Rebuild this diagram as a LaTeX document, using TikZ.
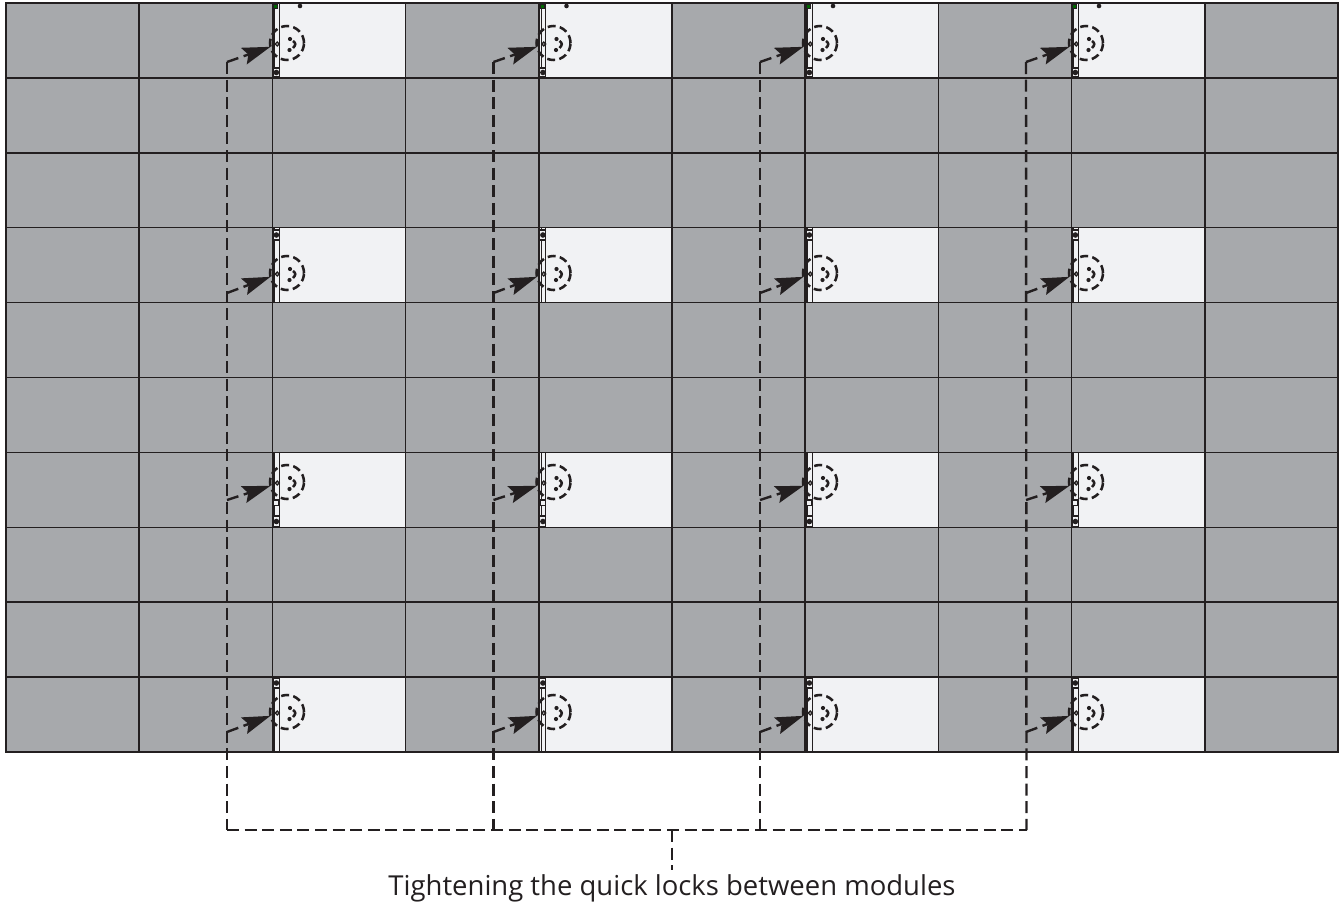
\documentclass[tikz,border=0pt]{standalone}
\usepackage{fontspec}
\setmainfont{Open Sans}
\usetikzlibrary{arrows.meta,positioning,calc}
\definecolor{panelgray}{HTML}{A7A9AC}
\definecolor{panelwhite}{HTML}{F1F2F4}
\definecolor{inkblack}{HTML}{231F20}

\begin{document}
\begin{tikzpicture}[
    x=0.75pt, y=-0.75pt,
    panel/.style={draw=inkblack, line width=1.1pt, fill=panelgray, minimum width=99.9pt,
                  minimum height=56.2pt, inner sep=0pt, outer sep=0pt},
    panelopen/.style={panel, fill=panelwhite},
    lockring/.style={circle, draw=inkblack, line width=1.9pt, dash pattern=on 6pt off 3.2pt,
                     minimum size=25.5pt, inner sep=0pt, outer sep=0pt},
    leader/.style={draw=inkblack, line width=1.8pt, dash pattern=on 9pt off 4.2pt},
    pointer/.style={leader, -{Stealth[length=21pt, width=13pt, inset=3.5pt]}},
    strip/.style={draw=inkblack, line width=1pt, fill=panelwhite},
    caption/.style={font=\fontsize{20.6}{24}\selectfont, text=inkblack, inner sep=0pt, outer ysep=3pt}
]

% --- Module grid ---
\foreach \r in {0,...,9} {
    \foreach \c in {0,...,9} {
        \node[panel] (mod-\r-\c) at ({6+133.2*\c+66.6},{3+74.9*\r+37.45}) {};
    }
}

% --- Open modules ---
\foreach \r in {0,3,6,9} {
    \foreach \c in {2,4,6,8} {
        \node[panelopen] (mod-\r-\c) at ({6+133.2*\c+66.6},{3+74.9*\r+37.45}) {};
    }
}

% --- Hinge strips, brackets and locks ---
\foreach \r/\locky/\kinky/\brackety/\bracketh in {0/43/62/68/9, 3/273/293/230/10, 6/482/500/516/11, 9/712/732/678/10} {
    \foreach \c/\stripx in {2/273, 4/539.5, 6/806, 8/1072} {
        \path[strip] (\stripx,{3+74.9*\r}) rectangle ++(6.3,74.9);
        \draw[inkblack, line width=1pt] (\stripx+1.7,{3+74.9*\r}) -- ++(0,74.9);
        \draw[strip] (\stripx,\brackety) rectangle ++(6.3,\bracketh);
        \fill[inkblack] (\stripx+3.4,\brackety+\bracketh/2) circle (2.8);
        \draw[strip, fill=white] (\stripx+4.2,\locky+1) circle (1.9);
        \node[lockring] (lock-\r-\c) at (\stripx+14,\locky) {};
        \coordinate (kink-\r-\c) at (\stripx-46,\kinky);
        \begin{scope}[shift={(lock-\r-\c)}]
            \fill[inkblack] (3,-4) circle (2.1);
            \fill[inkblack] (2.5,7) circle (2.1);
            \draw[inkblack, line width=1.9pt] (6,-2) .. controls (9,0) and (9,2) .. (6,5);
        \end{scope}
        \draw[pointer] (kink-\r-\c) -- (lock-\r-\c.193);
    }
}

% --- Extra marks on the first and seventh rows ---
\foreach \stripx in {273, 539.5, 806, 1072} {
    \fill[inkblack] (\stripx+27,6) circle (2.3);
    \draw[inkblack, fill=black!60!green, line width=0.8pt] (\stripx+0.7,4) rectangle ++(4,4.5);
    \draw[strip] (\stripx+0.4,500) rectangle ++(5.4,5.7);
}

% --- Leader lines ---
\coordinate (bus-2) at (227,830);
\coordinate (bus-4) at (493.5,830);
\coordinate (bus-6) at (760,830);
\coordinate (bus-8) at (1026.5,830);
\coordinate (bus-mid) at (672,830);
\node[caption] (note) at (672,888) {Tightening the quick locks between modules};

\foreach \c in {2,4,6,8} {
    \draw[leader] (kink-0-\c) -- (bus-\c);
}
\draw[leader] (bus-2) -- (bus-8);
\draw[leader] (bus-mid) -- (note.north);

\useasboundingbox (0,0) rectangle (1341,903);
\end{tikzpicture}
\end{document}
